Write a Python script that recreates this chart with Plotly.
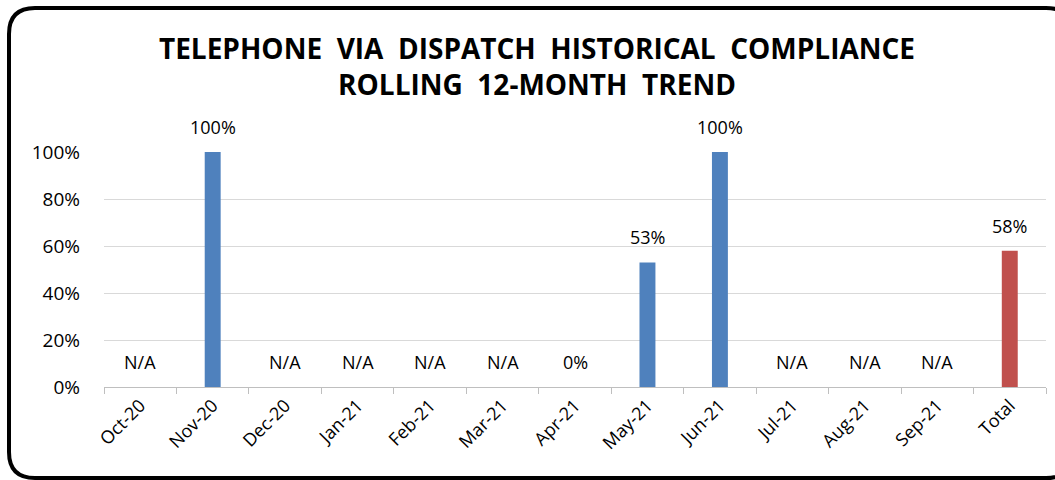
import plotly.graph_objects as go

categories = ["Oct-20", "Nov-20", "Dec-20", "Jan-21", "Feb-21", "Mar-21", "Apr-21",
              "May-21", "Jun-21", "Jul-21", "Aug-21", "Sep-21", "Total"]
values = [None, 1.00, None, None, None, None, 0.0, 0.53, 1.00, None, None, None, 0.58]
labels = ["N/A", "100%", "N/A", "N/A", "N/A", "N/A", "0%", "53%", "100%", "N/A", "N/A", "N/A", "58%"]
colors = ["#4F81BD"] * 12 + ["#C0504D"]

W, H = 1055, 480
L, R, T, B = 104, 9, 152, 93
PW, PH = W - L - R, H - T - B

def px(x):
    return (x - L) / PW

def py(y):
    return (H - B - y) / PH

fig = go.Figure()
fig.add_trace(go.Bar(
    x=categories, y=[v if v is not None else 0 for v in values],
    marker=dict(color=colors, line=dict(width=0)),
    width=0.22, hoverinfo="x+y",
))

font_main = "Open Sans"
for c, v, t in zip(categories, values, labels):
    fig.add_annotation(x=c, y=(v or 0), text=t, showarrow=False, yshift=25,
                       yanchor="middle", xanchor="center",
                       font=dict(family=font_main, size=18, color="#000000"))

# rounded frame
x0, y0, x1, y1, r = 9, 8, 1072, 478, 26
rx, ry = r / PW, r / PH
X0, X1, Y0, Y1 = px(x0), px(x1), py(y0), py(y1)
path = (f"M {X0+rx} {Y0} L {X1-rx} {Y0} Q {X1} {Y0} {X1} {Y0-ry} "
        f"L {X1} {Y1+ry} Q {X1} {Y1} {X1-rx} {Y1} "
        f"L {X0+rx} {Y1} Q {X0} {Y1} {X0} {Y1+ry} "
        f"L {X0} {Y0-ry} Q {X0} {Y0} {X0+rx} {Y0} Z")
fig.add_shape(type="path", path=path, xref="paper", yref="paper",
              line=dict(color="#000000", width=4), layer="above")

fig.update_layout(
    width=W, height=H,
    margin=dict(l=L, r=R, t=T, b=B),
    paper_bgcolor="#FFFFFF", plot_bgcolor="#FFFFFF",
    showlegend=False,
    title=dict(
        text="<b>TELEPHONE  VIA  DISPATCH  HISTORICAL  COMPLIANCE<br>ROLLING  12-MONTH  TREND</b>",
        x=537 / W, xanchor="center", y=1 - 59 / H, yanchor="middle",
        font=dict(family=font_main, size=28, color="#000000"),
    ),
    xaxis=dict(
        type="category", tickangle=-45, tickson="boundaries",
        ticks="outside", ticklen=6, tickcolor="#BFBFBF",
        showline=True, linecolor="#BFBFBF", linewidth=1,
        showgrid=False,
        tickfont=dict(family=font_main, size=18, color="#000000"),
    ),
    yaxis=dict(
        range=[0, 1], dtick=0.2, tickformat=".0%",
        showgrid=True, gridcolor="#D9D9D9", gridwidth=1,
        zeroline=False, showline=False, ticks="",
        ticklabelstandoff=23,
        tickfont=dict(family=font_main, size=19, color="#000000"),
    ),
    bargap=0.78,
)

fig.write_html("out.html", config={"displayModeBar": False},
               post_script="document.body.style.margin='0';document.body.style.overflow='hidden';")
